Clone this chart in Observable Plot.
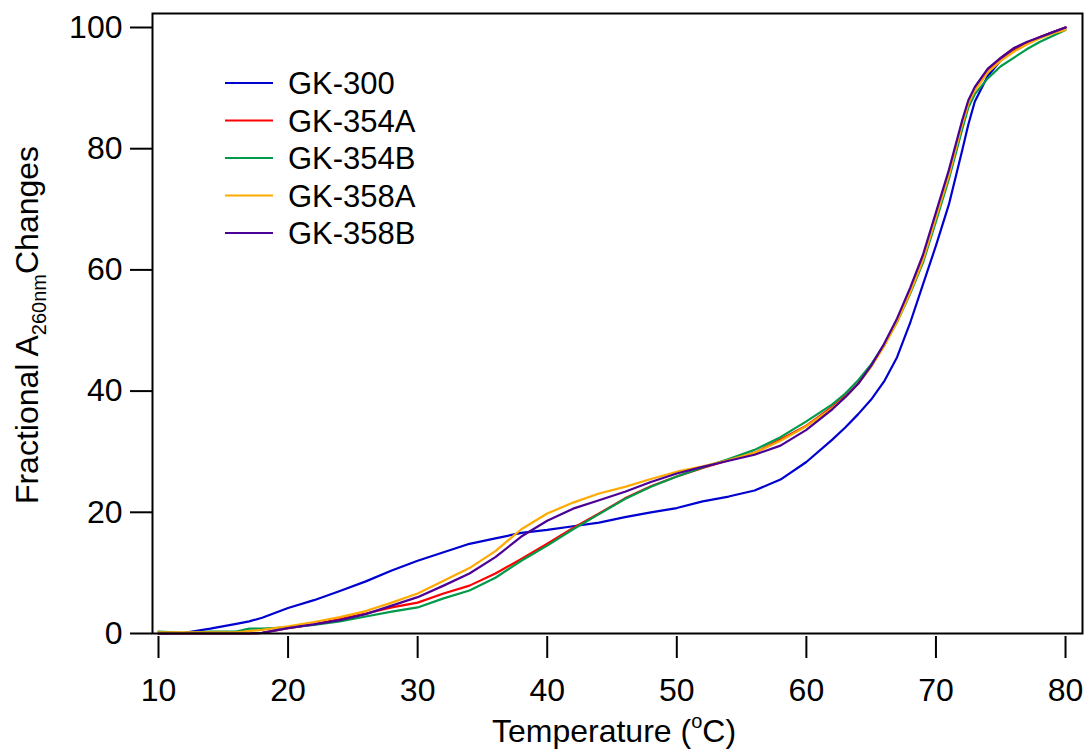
<!DOCTYPE html>
<html>
<head>
<meta charset="utf-8">
<script src="https://cdn.jsdelivr.net/npm/d3@7"></script>
<script src="https://cdn.jsdelivr.net/npm/@observablehq/plot@0.6"></script>
<style>
  html, body { margin: 0; padding: 0; background: #fff; }
  #chart { width: 1086px; height: 753px; }
</style>
</head>
<body>
<div id="chart"></div>
<script>
// ---- data ----
const temperature = [10,12,14,16,17,18,20,22,24,26,28,30,32,34,36,38,40,42,44,46,48,50,52,54,56,58,60,62,63,64,65,66,67,68,69,70,71,72,72.5,73,74,75,76,77,78,79,80];

const seriesNames = ["GK-300", "GK-354A", "GK-354B", "GK-358A", "GK-358B"];
const seriesColors = ["#0000d0", "#ff0000", "#009a4a", "#ffaa00", "#4b0096"];

const gk300  = [0,0.1,0.8,1.6,2.0,2.6,4.2,5.5,7.0,8.6,10.4,12.0,13.4,14.8,15.7,16.6,17.1,17.7,18.3,19.2,20.0,20.7,21.8,22.6,23.6,25.4,28.3,32.0,34.0,36.2,38.6,41.6,45.6,51.2,57.6,64.0,70.8,79.5,84.0,87.8,92.0,94.6,96.3,97.4,98.4,99.2,100];
const gk354A = [0,0,0,0,0,0.1,0.9,1.5,2.4,3.3,4.3,5.1,6.6,7.9,9.9,12.3,14.8,17.4,19.8,22.3,24.3,25.9,27.3,28.6,29.8,32.0,34.3,37.4,39.2,41.3,44.2,47.6,51.6,56.4,61.8,68.8,75.8,84.0,87.5,89.8,93.0,95.0,96.5,97.5,98.4,99.2,100];
const gk354B = [0.3,0.1,0.3,0.3,0.8,0.8,1.0,1.4,2.0,2.8,3.6,4.3,5.8,7.1,9.2,12.0,14.5,17.2,19.7,22.2,24.2,25.9,27.4,28.8,30.3,32.4,35.0,37.8,39.6,41.8,44.4,47.6,51.4,56.0,61.2,68.0,75.0,83.0,86.8,89.0,91.6,93.6,95.0,96.4,97.6,98.6,99.6];
const gk358A = [0.2,0.2,0.2,0.2,0.4,0.6,1.2,1.9,2.7,3.7,5.1,6.6,8.7,10.8,13.6,17.2,19.8,21.6,23.1,24.2,25.5,26.7,27.6,28.6,29.8,31.8,34.2,37.2,39.0,41.2,44.0,47.4,51.4,56.2,61.6,68.6,75.6,83.8,87.4,89.6,92.6,94.5,96.0,97.2,98.2,99.0,99.6];
const gk358B = [0,0,0,0,0,0.1,0.9,1.5,2.2,3.2,4.6,6.0,7.9,9.9,12.6,16.0,18.6,20.6,22.0,23.4,25.0,26.4,27.5,28.5,29.5,31.0,33.6,37.0,39.0,41.2,44.2,47.8,52.0,57.0,62.5,69.5,76.5,84.5,88.0,90.2,93.2,95.0,96.6,97.6,98.4,99.2,100];

const xTicks = [10,20,30,40,50,60,70,80];
const yTicks = [0,20,40,60,80,100];

// ---- build table ----
const allValues = [gk300, gk354A, gk354B, gk358A, gk358B];
const rows = [];
seriesNames.forEach((name, s) => {
  temperature.forEach((t, i) => rows.push({series: name, t, v: allValues[s][i]}));
});

const font = "'Liberation Sans', Arial, Helvetica, sans-serif";

const plot = Plot.plot({
  width: 1086,
  height: 753,
  marginLeft: 152,
  marginRight: 4,
  marginTop: 13,
  marginBottom: 120,
  style: {fontFamily: font, fontSize: "32px", color: "black", background: "white", overflow: "visible"},
  x: {domain: [9.537, 81.31]},
  y: {domain: [0, 102.31]},
  color: {domain: seriesNames, range: seriesColors},
  marks: [
    Plot.line(rows, {x: "t", y: "v", stroke: "series", z: "series", strokeWidth: 2.2}),
    Plot.frame({stroke: "black", strokeWidth: 2}),
    Plot.axisY({ticks: yTicks, tickSize: 22, tickPadding: 8, strokeWidth: 2, fontSize: 32, label: null}),
    Plot.axisX({ticks: xTicks, tickSize: 22, strokeWidth: 2, dy: 3, tickFormat: () => "", label: null}),
    Plot.text(xTicks, {x: d => d, text: d => String(d), frameAnchor: "bottom", dy: 57, lineAnchor: "middle", fontSize: 32, fill: "black"})
  ]
});

document.getElementById("chart").appendChild(plot);

// ---- axis titles with sub/superscripts and legend ----
const svg = d3.select(plot);

const xt = svg.append("text")
  .attr("x", 614).attr("y", 742)
  .attr("text-anchor", "middle")
  .attr("font-family", font).attr("font-size", 32).attr("fill", "black");
xt.append("tspan").text("Temperature (");
xt.append("tspan").attr("font-size", 20).attr("dy", -14).text("o");
xt.append("tspan").attr("dy", 14).text("C)");

const yt = svg.append("text")
  .attr("transform", "translate(38,325) rotate(-90)")
  .attr("text-anchor", "middle")
  .attr("font-family", font).attr("font-size", 32).attr("fill", "black");
yt.append("tspan").text("Fractional A");
yt.append("tspan").attr("font-size", 20).attr("dy", 8).text("260nm");
yt.append("tspan").attr("dy", -8).text("Changes");

const legend = svg.append("g").attr("font-family", font).attr("font-size", 31).attr("text-anchor", "start");
seriesNames.forEach((name, i) => {
  const y = 83 + i * 37.5;
  legend.append("line")
    .attr("x1", 225).attr("x2", 273).attr("y1", y).attr("y2", y)
    .attr("stroke", seriesColors[i]).attr("stroke-width", 2.2);
  legend.append("text")
    .attr("x", 288).attr("y", y).attr("dy", "0.36em")
    .attr("text-anchor", "start")
    .attr("fill", "black").text(name);
});
</script>
</body>
</html>
